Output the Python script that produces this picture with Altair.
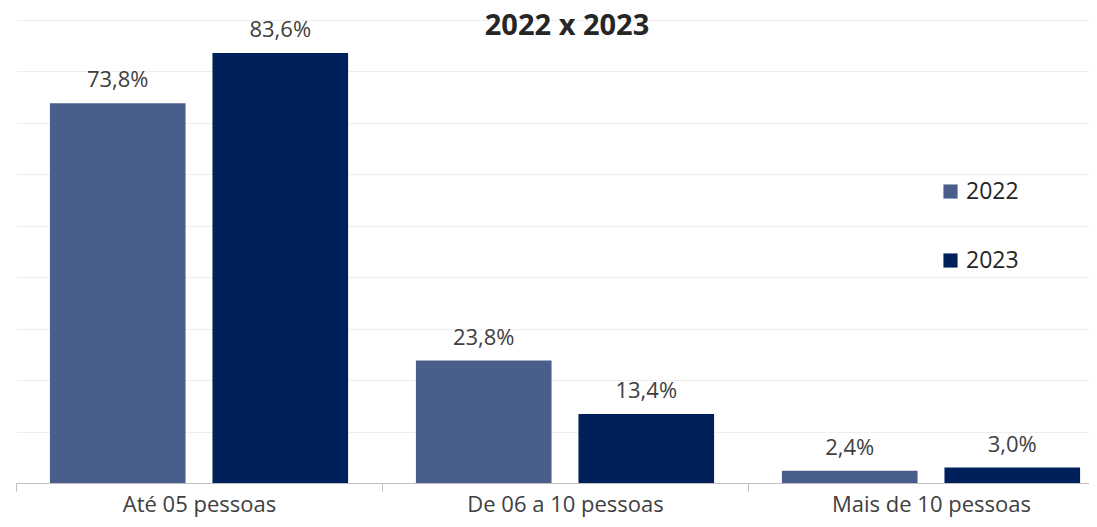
import altair as alt
import pandas as pd

categories = ["Até 05 pessoas", "De 06 a 10 pessoas", "Mais de 10 pessoas"]
years = ["2022", "2023"]
values_2022 = [73.8, 23.8, 2.4]
values_2023 = [83.6, 13.4, 3.0]
colors = ["#4A5E8B", "#00205C"]
title_text = "2022 x 2023"

rows = []
for c, v in zip(categories, values_2022):
    rows.append({"cat": c, "ano": "2022", "v": v})
for c, v in zip(categories, values_2023):
    rows.append({"cat": c, "ano": "2023", "v": v})
df = pd.DataFrame(rows)
df["lbl"] = df["v"].map(lambda x: f"{x:.1f}".replace(".", ",") + "%")

FONT = "Open Sans"

x = alt.X(
    "cat:N",
    sort=categories,
    scale=alt.Scale(range=[0, 1098], paddingInner=0, paddingOuter=0),
    axis=alt.Axis(
        title=None,
        labelAngle=0,
        labelFontSize=22,
        labelColor="#404040",
        labelFont=FONT,
        labelPadding=3,
        labelLimit=0,
        tickBand="extent",
        tickSize=8,
        tickColor="#BFBFBF",
        domainColor="#BFBFBF",
        domainWidth=1,
        grid=False,
    ),
)
xoff = alt.XOffset(
    "ano:N",
    sort=years,
    scale=alt.Scale(paddingInner=0.1656, paddingOuter=0.2086),
)
y = alt.Y(
    "v:Q",
    scale=alt.Scale(domain=[0, 90], nice=False),
    axis=alt.Axis(
        title=None,
        labels=False,
        ticks=False,
        domain=False,
        grid=True,
        gridColor="#EEEEEE",
        values=list(range(0, 91, 10)),
    ),
)
color = alt.Color(
    "ano:N",
    sort=years,
    scale=alt.Scale(domain=years, range=colors),
    legend=alt.Legend(
        title=None,
        orient="none",
        legendX=923,
        legendY=160,
        symbolType="square",
        symbolSize=200,
        symbolStrokeWidth=0,
        labelFontSize=23,
        labelFont=FONT,
        labelColor="#262626",
        labelOffset=4,
        rowPadding=45,
    ),
)

bars = alt.Chart(df).mark_bar().encode(x=x, xOffset=xoff, y=y, color=color)
text = alt.Chart(df).mark_text(
    baseline="alphabetic", dy=-16, fontSize=22, font=FONT, color="#404040"
).encode(x=x, xOffset=xoff, y="v:Q", text="lbl:N")

title = alt.Chart(pd.DataFrame({"t": [title_text]})).mark_text(
    baseline="alphabetic", align="center", fontSize=29, fontWeight="bold",
    font=FONT, color="#262626"
).encode(x=alt.value(551), y=alt.value(15), text="t:N")

chart = (
    alt.layer(bars, text, title)
    .properties(
        width=1073,
        height=463,
        autosize=alt.AutoSizeParams(type="none"),
        padding={"left": 8, "top": 12, "right": 0, "bottom": 36},
    )
    .configure_view(stroke=None)
)

chart.save("out.html", embed_options={"renderer": "svg", "actions": False})
